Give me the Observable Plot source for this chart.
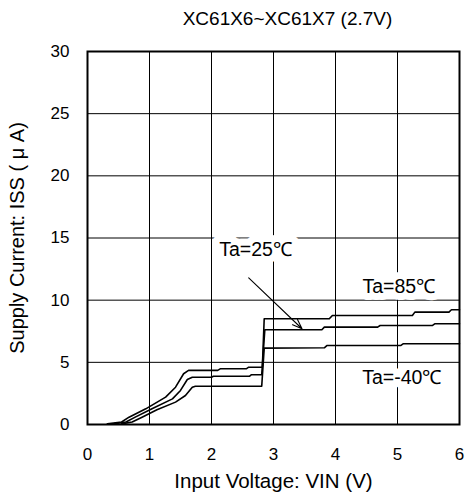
<!DOCTYPE html>
<html>
<head>
<meta charset="utf-8">
<script src="https://cdn.jsdelivr.net/npm/d3@7"></script>
<script src="https://cdn.jsdelivr.net/npm/@observablehq/plot@0.6"></script>
<style>
  html, body { margin: 0; padding: 0; background: #fff; }
</style>
</head>
<body>
<div id="chart"></div>
<script>
const title = "XC61X6~XC61X7 (2.7V)";
const xLabel = "Input Voltage: VIN (V)";
const yLabel = "Supply Current: ISS ( μ A)";
const xTicks = [0, 1, 2, 3, 4, 5, 6];
const yTicks = [0, 5, 10, 15, 20, 25, 30];

// [VIN (V), ISS (uA)]
const ta85 = [[0.32,0.05],[0.55,0.2],[0.67,0.59],[0.94,1.26],[1.26,2.2],[1.42,3.0],[1.55,4.08],[1.63,4.35],[2.1,4.35],[2.14,4.48],[2.56,4.48],[2.6,4.61],[2.82,4.61],[2.85,8.5],[3.9,8.5],[3.95,8.77],[5.24,8.77],[5.28,9.04],[5.83,9.04],[5.87,9.23],[6,9.23]];
const ta25 = [[0.42,0.05],[0.62,0.2],[0.77,0.59],[1.04,1.26],[1.37,2.06],[1.5,2.74],[1.61,3.62],[1.69,3.8],[2.0,3.8],[2.03,3.88],[2.61,3.88],[2.64,4.0],[2.81,4.0],[2.86,7.62],[3.78,7.62],[3.82,7.83],[4.68,7.83],[4.72,7.96],[5.56,7.96],[5.6,8.1],[6,8.1]];
const taM40 = [[0.55,0.05],[0.72,0.2],[0.88,0.59],[1.12,1.18],[1.42,1.8],[1.58,2.33],[1.69,3.0],[1.74,3.08],[2.81,3.08],[2.85,6.14],[3.82,6.17],[3.86,6.35],[5.05,6.35],[5.09,6.49],[6,6.49]];

const seriesNames = ["Ta=85℃", "Ta=25℃", "Ta=-40℃"];
const seriesData = [ta85, ta25, taM40];

const labelText = ["Ta=25℃", "Ta=85℃", "Ta=-40℃"];
const labelX = [2.71, 5.02, 5.07];
const labelY = [14.08, 11.05, 3.8];

const arrowFrom = [2.60, 11.8];
const arrowTo = [3.46, 7.7];

const rows = seriesData.flatMap((pts, i) => pts.map(([v, c]) => ({series: seriesNames[i], vin: v, iss: c})));
const labels = labelText.map((t, i) => ({text: t, x: labelX[i], y: labelY[i]}));
const arrows = [{x1: arrowFrom[0], y1: arrowFrom[1], x2: arrowTo[0], y2: arrowTo[1]}];

const chart = Plot.plot({
  width: 465,
  height: 494,
  marginLeft: 87,
  marginRight: 6,
  marginTop: 51,
  marginBottom: 70,
  style: {fontFamily: "'Liberation Sans', Arial, sans-serif", fontSize: "17px", color: "#000", background: "#fff"},
  x: {domain: [0, 6]},
  y: {domain: [0, 30]},
  marks: [
    Plot.gridX(xTicks, {stroke: "#000", strokeOpacity: 1, strokeWidth: 1}),
    Plot.gridY(yTicks, {stroke: "#000", strokeOpacity: 1, strokeWidth: 1}),
    Plot.axisX(xTicks, {tickSize: 0, tickPadding: 23, fontSize: 17, label: null}),
    Plot.axisY(yTicks, {tickSize: 0, tickPadding: 18, fontSize: 17, label: null}),
    Plot.line(rows, {x: "vin", y: "iss", z: "series", stroke: "#000", strokeWidth: 1.6}),
    Plot.arrow(arrows, {x1: "x1", y1: "y1", x2: "x2", y2: "y2", stroke: "#000", strokeWidth: 1.1, headLength: 14, headAngle: 40}),
    Plot.text(labels, {x: "x", y: "y", text: "text", fontSize: 19.5, fill: "#000", stroke: "#fff", strokeWidth: 14, paintOrder: "stroke"}),
    Plot.frame({stroke: "#000", strokeWidth: 2}),
    Plot.text([title], {frameAnchor: "top", lineAnchor: "middle", dx: 14, dy: -33, fontSize: 19, fill: "#000"}),
    Plot.text([xLabel], {frameAnchor: "bottom", lineAnchor: "middle", dy: 57, fontSize: 20.5, fill: "#000"}),
    Plot.text([yLabel], {frameAnchor: "left", textAnchor: "middle", dx: -70, rotate: -90, fontSize: 20, fill: "#000"})
  ]
});
document.getElementById("chart").appendChild(chart);
</script>
</body>
</html>
